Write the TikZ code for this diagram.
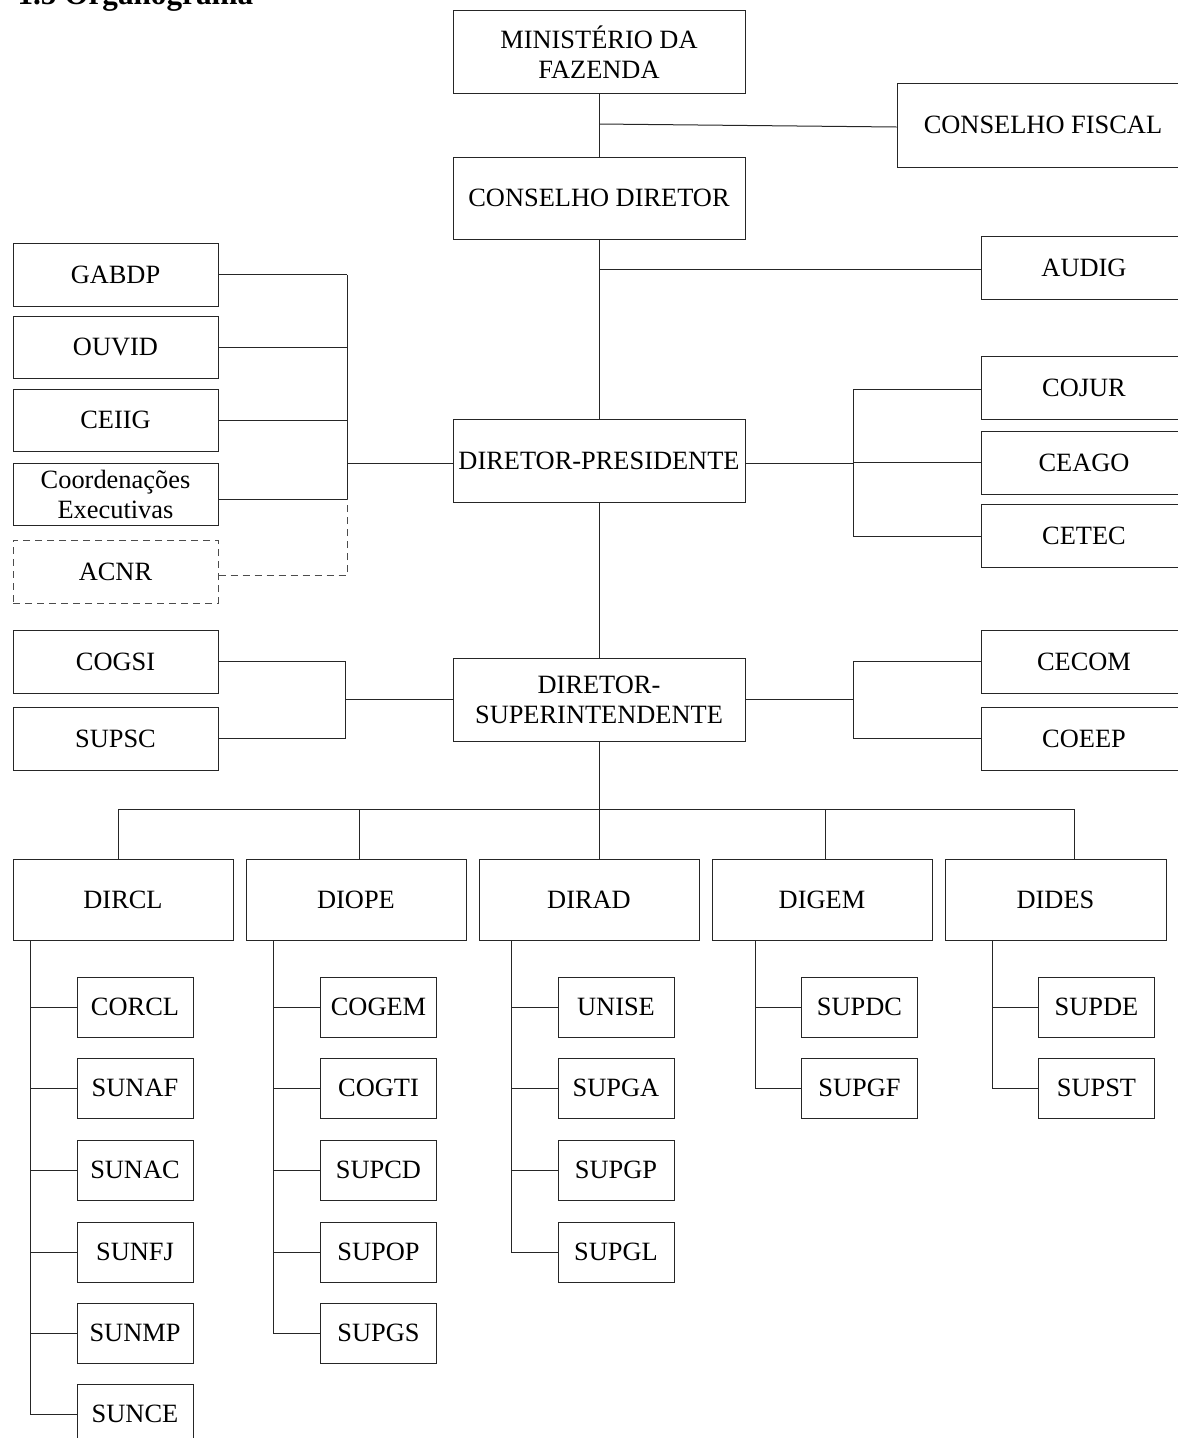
\documentclass[tikz,border=0pt]{standalone}
\usepackage{fontspec}
\setmainfont{Liberation Serif}
\begin{document}
\begin{tikzpicture}[x=1pt,y=-1pt,line width=1pt,
  box/.style={draw=black!85,rectangle,inner sep=0pt,align=center,font=\fontsize{26.4}{30}\selectfont},
  bigbox/.style={box,minimum width=292pt,minimum height=83pt},
  sidebox/.style={box,minimum width=205pt,minimum height=62pt},
  dirbox/.style={box,minimum width=220pt,minimum height=81pt},
  kidbox/.style={box,minimum width=116pt,minimum height=60pt},
  conn/.style={draw=black!85,line width=1pt},
  dsh/.style={draw=black!70,line width=1pt,dash pattern=on 7pt off 5pt}]
\useasboundingbox (0,0) rectangle (1178,1438);

% title (cut by the page edge as in the reference)
\node[anchor=base west,inner sep=0pt,font=\bfseries\fontsize{31.2}{36}\selectfont] (title) at (17,4) {1.5 Organograma};

% main column
\node[bigbox] (mf) at (599,52) {MINISTÉRIO DA\\FAZENDA};
\node[bigbox,minimum height=84pt] (cf) at (1043,125) {CONSELHO FISCAL};
\node[bigbox,minimum height=82pt] (cd) at (599,198) {CONSELHO DIRETOR};
\node[bigbox] (dp) at (599,460.5) {DIRETOR-PRESIDENTE};
\node[bigbox] (ds) at (599,699.5) {DIRETOR-\\SUPERINTENDENTE};

% right side boxes
\node[sidebox,minimum width=206pt,minimum height=63pt] (audig) at (1084,267.5) {AUDIG};
\node[sidebox,minimum width=206pt,minimum height=63pt] (cojur) at (1084,387.5) {COJUR};
\node[sidebox,minimum width=206pt,minimum height=63pt] (ceago) at (1084,462.5) {CEAGO};
\node[sidebox,minimum width=206pt,minimum height=63pt] (cetec) at (1084,535.5) {CETEC};
\node[sidebox,minimum width=206pt,minimum height=63pt] (cecom) at (1084,661.5) {CECOM};
\node[sidebox,minimum width=206pt,minimum height=63pt] (coeep) at (1084,738.5) {COEEP};

% left side boxes
\node[sidebox,minimum height=63pt] (gabdp) at (115.5,274.5) {GABDP};
\node[sidebox] (ouvid) at (115.5,347) {OUVID};
\node[sidebox] (ceiig) at (115.5,420) {CEIIG};
\node[sidebox] (coord) at (115.5,494) {Coordenações\\Executivas};
\node[sidebox,minimum height=63pt,draw=black!70,dash pattern=on 7pt off 5pt] (acnr) at (115.5,571.5) {ACNR};
\node[sidebox,minimum height=63pt] (cogsi) at (115.5,661.5) {COGSI};
\node[sidebox,minimum height=63pt] (supsc) at (115.5,738.5) {SUPSC};

% directorates
\node[dirbox] (dircl) at (123,899.5) {DIRCL};
\node[dirbox] (diope) at (356,899.5) {DIOPE};
\node[dirbox] (dirad) at (589,899.5) {DIRAD};
\node[dirbox] (digem) at (822,899.5) {DIGEM};
\node[dirbox,minimum width=221pt] (dides) at (1055.5,899.5) {DIDES};

% sub-units
\node[kidbox] (corcl) at (135,1007) {CORCL};
\node[kidbox] (sunaf) at (135,1088) {SUNAF};
\node[kidbox] (sunac) at (135,1170) {SUNAC};
\node[kidbox] (sunfj) at (135,1252) {SUNFJ};
\node[kidbox] (sunmp) at (135,1333) {SUNMP};
\node[kidbox] (sunce) at (135,1414) {SUNCE};

\node[kidbox] (cogem) at (378.5,1007) {COGEM};
\node[kidbox] (cogti) at (378.5,1088) {COGTI};
\node[kidbox] (supcd) at (378.5,1170) {SUPCD};
\node[kidbox] (supop) at (378.5,1252) {SUPOP};
\node[kidbox] (supgs) at (378.5,1333) {SUPGS};

\node[kidbox] (unise) at (616,1007) {UNISE};
\node[kidbox] (supga) at (616,1088) {SUPGA};
\node[kidbox] (supgp) at (616,1170) {SUPGP};
\node[kidbox] (supgl) at (616,1252) {SUPGL};

\node[kidbox] (supdc) at (859.5,1007) {SUPDC};
\node[kidbox] (supgf) at (859.5,1088) {SUPGF};

\node[kidbox] (supde) at (1096.5,1007) {SUPDE};
\node[kidbox] (supst) at (1096.5,1088) {SUPST};

% helper coordinates
\coordinate (cfj) at (599,124);
\coordinate (auj) at (599,269);
\coordinate (lx) at (347,0);
\coordinate (lx2) at (345,0);
\coordinate (rx) at (853,0);
\coordinate (bus) at (0,809);
\coordinate (b1) at (118,0);
\coordinate (b2) at (359,0);
\coordinate (b4) at (825,0);
\coordinate (b5) at (1074,0);
\coordinate (k1) at (30,0);
\coordinate (k2) at (273,0);
\coordinate (k3) at (511,0);
\coordinate (k4) at (755,0);
\coordinate (k5) at (992,0);

% main column connectors
\draw[conn] (mf.south) -- (cd.north);
\draw[conn] (cfj) -- ([yshift=-2pt]cf.west);
\draw[conn] (cd.south) -- (dp.north);
\draw[conn] (auj) -- (auj -| audig.west);
\draw[conn] (dp.south) -- (ds.north);

% left group of DIRETOR-PRESIDENTE
\draw[conn] (gabdp.east) -- (gabdp.east -| lx);
\draw[conn] (ouvid.east) -- (ouvid.east -| lx);
\draw[conn] (ceiig.east) -- (ceiig.east -| lx);
\draw[conn] ([yshift=-5pt]coord.east) -- ([yshift=-5pt]coord.east -| lx);
\draw[conn] (gabdp.east -| lx) -- ([yshift=-5pt]coord.east -| lx);
\draw[dsh] ([yshift=-4pt]acnr.east) -| ([yshift=-5pt]coord.east -| lx);
\draw[conn] ([yshift=-2.5pt]dp.west -| lx) -- ([yshift=-2.5pt]dp.west);

% right group of DIRETOR-PRESIDENTE
\draw[conn] ([yshift=-2.5pt]dp.east) -- ([yshift=-2.5pt]dp.east -| rx);
\draw[conn] ([yshift=-1.5pt]cojur.west) -| ([yshift=-0.5pt]cetec.west -| rx) -- ([yshift=-0.5pt]cetec.west);
\draw[conn] (ceago.west) -- (ceago.west -| rx);

% left group of DIRETOR-SUPERINTENDENTE
\draw[conn] (cogsi.east) -| (supsc.east -| lx2) -- (supsc.east);
\draw[conn] (ds.west -| lx2) -- (ds.west);

% right group of DIRETOR-SUPERINTENDENTE
\draw[conn] (ds.east) -- (ds.east -| rx);
\draw[conn] (cecom.west) -| (coeep.west -| rx) -- (coeep.west);

% bus to directorates
\draw[conn] (ds.south) -- (ds.south |- dirad.north);
\draw[conn] (b1 |- bus) -- (b5 |- bus);
\draw[conn] (b1 |- bus) -- (b1 |- dircl.north);
\draw[conn] (b2 |- bus) -- (b2 |- diope.north);
\draw[conn] (b4 |- bus) -- (b4 |- digem.north);
\draw[conn] (b5 |- bus) -- (b5 |- dides.north);

% DIRCL
\draw[conn] (k1 |- dircl.south) |- (sunce.west);
\draw[conn] (k1 |- corcl.west) -- (corcl.west);
\draw[conn] (k1 |- sunaf.west) -- (sunaf.west);
\draw[conn] (k1 |- sunac.west) -- (sunac.west);
\draw[conn] (k1 |- sunfj.west) -- (sunfj.west);
\draw[conn] (k1 |- sunmp.west) -- (sunmp.west);

% DIOPE
\draw[conn] (k2 |- diope.south) |- (supgs.west);
\draw[conn] (k2 |- cogem.west) -- (cogem.west);
\draw[conn] (k2 |- cogti.west) -- (cogti.west);
\draw[conn] (k2 |- supcd.west) -- (supcd.west);
\draw[conn] (k2 |- supop.west) -- (supop.west);

% DIRAD
\draw[conn] (k3 |- dirad.south) |- (supgl.west);
\draw[conn] (k3 |- unise.west) -- (unise.west);
\draw[conn] (k3 |- supga.west) -- (supga.west);
\draw[conn] (k3 |- supgp.west) -- (supgp.west);

% DIGEM
\draw[conn] (k4 |- digem.south) |- (supgf.west);
\draw[conn] (k4 |- supdc.west) -- (supdc.west);

% DIDES
\draw[conn] (k5 |- dides.south) |- (supst.west);
\draw[conn] (k5 |- supde.west) -- (supde.west);
\end{tikzpicture}
\end{document}
